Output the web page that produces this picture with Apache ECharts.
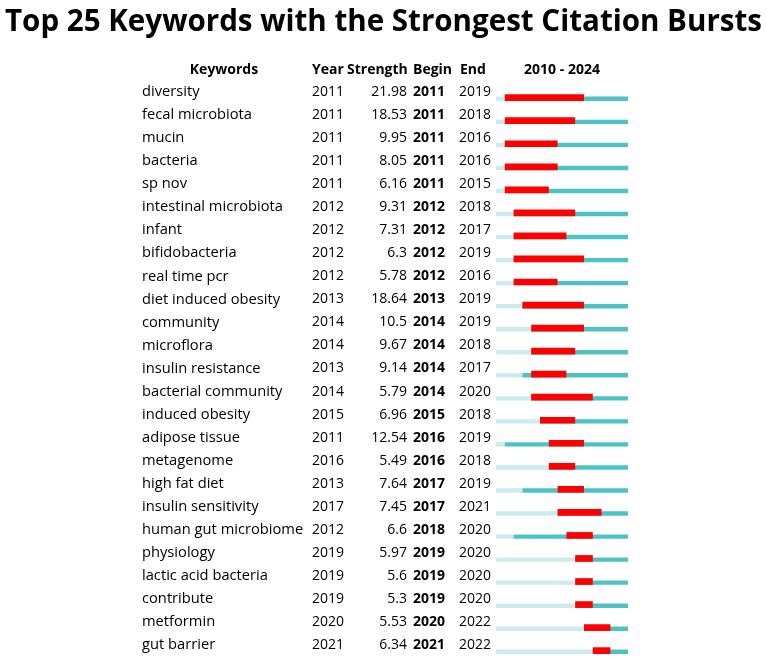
<!DOCTYPE html>
<html>
<head>
<meta charset="utf-8">
<script src="https://cdn.jsdelivr.net/npm/echarts@6/dist/echarts.min.js"></script>
<style>
  html, body { margin: 0; padding: 0; background: #fff; }
  #chart { width: 767px; height: 662px; }
</style>
</head>
<body>
<div id="chart"></div>
<script>
const keywords = ['diversity', 'fecal microbiota', 'mucin', 'bacteria', 'sp nov', 'intestinal microbiota', 'infant',
  'bifidobacteria', 'real time pcr', 'diet induced obesity', 'community', 'microflora', 'insulin resistance',
  'bacterial community', 'induced obesity', 'adipose tissue', 'metagenome', 'high fat diet', 'insulin sensitivity',
  'human gut microbiome', 'physiology', 'lactic acid bacteria', 'contribute', 'metformin', 'gut barrier']
const years = [2011, 2011, 2011, 2011, 2011, 2012, 2012, 2012, 2012, 2013, 2014, 2014, 2013, 2014, 2015, 2011, 2016,
  2013, 2017, 2012, 2019, 2019, 2019, 2020, 2021]
const strengths = ['21.98', '18.53', '9.95', '8.05', '6.16', '9.31', '7.31', '6.3', '5.78', '18.64', '10.5', '9.67',
  '9.14', '5.79', '6.96', '12.54', '5.49', '7.64', '7.45', '6.6', '5.97', '5.6', '5.3', '5.53', '6.34']
const begins = [2011, 2011, 2011, 2011, 2011, 2012, 2012, 2012, 2012, 2013, 2014, 2014, 2014, 2014, 2015, 2016, 2016,
  2017, 2017, 2018, 2019, 2019, 2019, 2020, 2021]
const ends = [2019, 2018, 2016, 2016, 2015, 2018, 2017, 2019, 2016, 2019, 2019, 2018, 2017, 2020, 2018, 2019, 2018,
  2019, 2021, 2020, 2020, 2020, 2020, 2022, 2022]
const startYear = 2010
const endYear = 2024

const font = '"Open Sans", "Noto Sans", sans-serif'
const titleText = 'Top 25 Keywords with the Strongest Citation Bursts'

// squeeze the title to the width it has in the original
function titleScale() {
  const ctx = document.createElement('canvas').getContext('2d')
  ctx.font = 'bold 30px ' + font
  return 757 / ctx.measureText(titleText).width
}

const rows = keywords.map((k, i) => [i, years[i], begins[i], ends[i]])

const chart = echarts.init(document.getElementById('chart'))

function renderRow(params, api) {
  const i = api.value(0)
  const p0 = api.coord([startYear, i])
  const yc = p0[1]
  const xYear = api.coord([api.value(1), i])[0]
  const xEnd = api.coord([endYear + 1, i])[0]
  const xB = api.coord([api.value(2), i])[0]
  const xE = api.coord([api.value(3) + 1, i])[0]
  const txt = (x, s, align, bold, size) => ({
    type: 'text',
    style: {
      x: x, y: yc, text: s, align: align, verticalAlign: 'middle',
      font: (bold ? 'bold ' : '') + (size || 14) + 'px ' + font, fill: '#000'
    }
  })
  return {
    type: 'group',
    children: [
      { type: 'rect', shape: { x: p0[0], y: yc + 4.6, width: xYear - p0[0], height: 4.4 }, style: { fill: '#cdebec' } },
      { type: 'rect', shape: { x: xYear, y: yc + 4.6, width: xEnd - xYear, height: 4.4 }, style: { fill: '#4dc3c6' } },
      { type: 'rect', shape: { x: xB, y: yc + 2.3, width: xE - xB, height: 6.7 }, style: { fill: '#ff0000' } },
      txt(142, keywords[i], 'left', false, 14.7),
      txt(312, String(years[i]), 'left'),
      txt(407, strengths[i], 'right'),
      txt(413, String(begins[i]), 'left', true),
      txt(459, String(ends[i]), 'left')
    ]
  }
}

const head = (x, s, align) => ({
  type: 'text', x: x, y: 70,
  style: { text: s, align: align, verticalAlign: 'middle', font: 'bold 14px ' + font, fill: '#000' }
})

chart.setOption({
  animation: false,
  grid: { left: 496, right: 139, top: 80.5, height: 576 },
  xAxis: { type: 'value', min: startYear, max: endYear + 1, show: false },
  yAxis: { type: 'category', data: keywords, inverse: true, show: false },
  graphic: [
    {
      type: 'text', x: 383.5, y: 22, scaleX: titleScale(), originX: 0, originY: 0,
      style: { text: titleText, align: 'center', verticalAlign: 'middle', font: 'bold 30px ' + font, fill: '#000' }
    },
    head(224, 'Keywords', 'center'),
    head(312, 'Year', 'left'),
    head(347, 'Strength', 'left'),
    head(413, 'Begin', 'left'),
    head(460, 'End', 'left'),
    head(562, startYear + ' - ' + endYear, 'center')
  ],
  series: [{
    type: 'custom',
    renderItem: renderRow,
    encode: { x: [1, 2, 3], y: 0 },
    data: rows
  }]
})
</script>
</body>
</html>
